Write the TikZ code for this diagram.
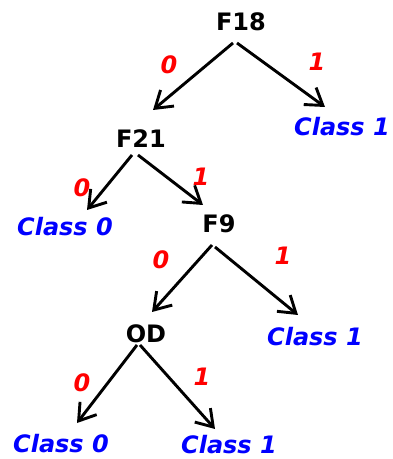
\documentclass[tikz,border=0pt]{standalone}
\usepackage{fontspec}
\setmainfont{DejaVu Sans}
\usepackage{tikz}
\usetikzlibrary{arrows.meta}
\tikzset{
feature/.style={%
    font=\fontsize{24}{28}\selectfont\bfseries,
    text=black, inner sep=0pt
},
leaf/.style={%
    font=\fontsize{24}{28}\selectfont\bfseries\itshape,
    text=blue, inner sep=0pt
},
branch/.style={%
    font=\fontsize{24}{28}\selectfont\bfseries\itshape,
    text=red, inner sep=0pt
},
}

\begin{document}
\begin{tikzpicture}[x=1pt, y=1pt, ->, >={Straight Barb[length=16pt,width=21pt]}, line width=2.9pt]
				\useasboundingbox (0,0) rectangle (392,459);

				\node[feature] at (241,437) (f18) {F18};
				\node[feature] at (141,320) (f21) {F21};
				\node[feature] at (219,235) (f9) {F9};
				\node[feature] at (146,125) (od) {OD};

				\node[leaf] at (342,332) (c1a) {Class 1};
				\node[leaf] at (65,232) (c0a) {Class 0};
				\node[leaf] at (315,122) (c1b) {Class 1};
				\node[leaf] at (61,15) (c0b) {Class 0};
				\node[leaf] at (229,14) (c1c) {Class 1};

				\node[branch] at (169,394) (l0a) {0};
				\node[branch] at (317,397) (l1a) {1};
				\node[branch] at (82,271) (l0b) {0};
				\node[branch] at (201,282) (l1b) {1};
				\node[branch] at (161,199) (l0c) {0};
				\node[branch] at (283,203) (l1c) {1};
				\node[branch] at (82,76) (l0d) {0};
				\node[branch] at (202,82) (l1d) {1};

			\draw ([shift={(-8pt,-21pt)}]f18.center) -- ([shift={(12pt,29pt)}]f21.center);
			\draw ([shift={(-4pt,-21pt)}]f18.center) -- ([shift={(-17pt,20pt)}]c1a.center);
			\draw ([shift={(-9pt,-16pt)}]f21.center) -- ([shift={(22pt,17pt)}]c0a.center);
			\draw ([shift={(-3pt,-16pt)}]f21.center) -- ([shift={(-16pt,19pt)}]f9.center);
			\draw ([shift={(-7pt,-21pt)}]f9.center) -- ([shift={(6pt,22pt)}]od.center);
			\draw ([shift={(-4pt,-23pt)}]f9.center) -- ([shift={(-17pt,22pt)}]c1b.center);
			\draw ([shift={(-9pt,-11pt)}]od.center) -- ([shift={(16pt,21pt)}]c0b.center);
			\draw ([shift={(-6pt,-11pt)}]od.center) -- ([shift={(-14pt,16pt)}]c1c.center);

			\end{tikzpicture}
\end{document}
